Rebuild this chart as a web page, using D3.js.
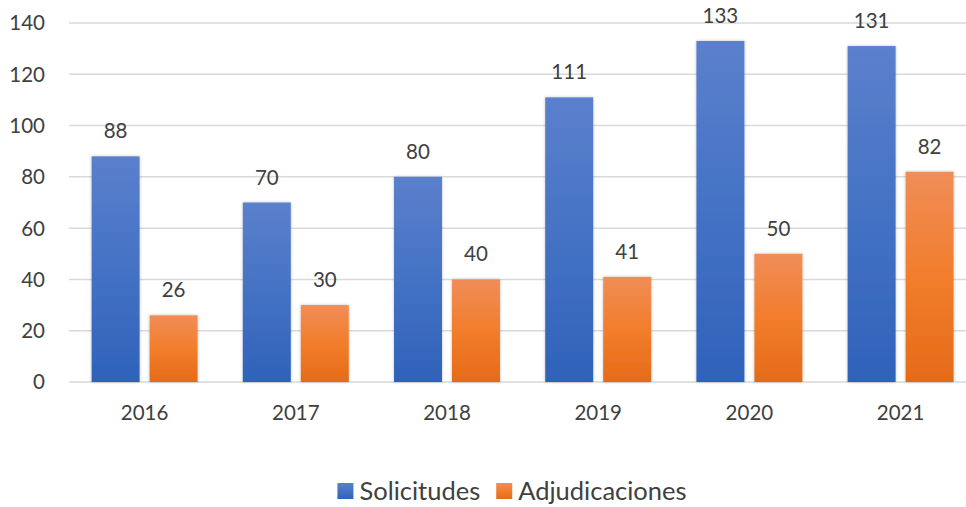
<!DOCTYPE html>
<html><head><meta charset="utf-8">
<script src="https://cdn.jsdelivr.net/npm/d3@7"></script>
<style>body{margin:0;background:#fff}svg{display:block}</style>
</head><body>
<svg id="c" width="966" height="507"></svg>
<script>
const categories = ["2016","2017","2018","2019","2020","2021"];
const seriesNames = ["Solicitudes","Adjudicaciones"];
const solicitudes = [88,70,80,111,133,131];
const adjudicaciones = [26,30,40,41,50,82];
const yTicks = [0,20,40,60,80,100,120,140];

const W=966,H=507;
const svg=d3.select("#c");
const font="Lato, 'Open Sans', sans-serif";
const txt="#404040";
const fs=20.5;

const defs=svg.append("defs");
const grads=[["gBlue","#5b80cc","#4472c4","#2f62ba"],["gOrange","#f08d58","#f27d2c","#e56b18"]];
grads.forEach(([id,a,b,c])=>{
  const g=defs.append("linearGradient").attr("id",id).attr("x1",0).attr("y1",0).attr("x2",0).attr("y2",1);
  g.append("stop").attr("offset","0%").attr("stop-color",a);
  g.append("stop").attr("offset","50%").attr("stop-color",b);
  g.append("stop").attr("offset","100%").attr("stop-color",c);
});
const f=defs.append("filter").attr("id","sh").attr("x","-20%").attr("y","-10%").attr("width","140%").attr("height","120%");
f.append("feDropShadow").attr("dx",0).attr("dy",0).attr("stdDeviation",1.6).attr("flood-color","#000").attr("flood-opacity",0.25);

const y=d3.scaleLinear().domain([0,140]).range([382,23]);
const x0=d3.scaleBand().domain(categories).range([69,69+151.2*6]).paddingInner(0).paddingOuter(0);
const x1=d3.scaleBand().domain(seriesNames).range([0,x0.bandwidth()]).paddingInner(0.1724).paddingOuter(0.39);

svg.append("g").selectAll("line").data(yTicks).join("line")
  .attr("x1",69).attr("x2",W).attr("y1",d=>y(d)).attr("y2",d=>y(d))
  .attr("stroke","#d9d9d9").attr("stroke-width",1.5);

svg.append("g").selectAll("text").data(yTicks).join("text")
  .attr("x",45).attr("y",d=>y(d)).attr("dy","0.36em").attr("text-anchor","end")
  .attr("font-family",font).attr("font-size",fs).attr("fill",txt).text(d=>d);

const data=categories.map((c,i)=>({cat:c,vals:[{s:seriesNames[0],v:solicitudes[i],g:"gBlue"},{s:seriesNames[1],v:adjudicaciones[i],g:"gOrange"}]}));
const grp=svg.append("g").selectAll("g").data(data).join("g").attr("transform",d=>`translate(${x0(d.cat)},0)`);
grp.selectAll("rect").data(d=>d.vals).join("rect")
  .attr("x",d=>x1(d.s)).attr("width",x1.bandwidth())
  .attr("y",d=>y(d.v)).attr("height",d=>y(0)-y(d.v))
  .attr("fill",d=>`url(#${d.g})`).attr("filter","url(#sh)");
grp.selectAll("text").data(d=>d.vals).join("text")
  .attr("x",d=>x1(d.s)+x1.bandwidth()/2).attr("y",d=>y(d.v)-18)
  .attr("text-anchor","middle").attr("font-family",font).attr("font-size",fs).attr("fill",txt).text(d=>d.v);

svg.append("g").selectAll("text").data(categories).join("text")
  .attr("x",d=>x0(d)+x0.bandwidth()/2).attr("y",413).attr("dy","0.36em").attr("text-anchor","middle")
  .attr("font-family",font).attr("font-size",fs).attr("fill",txt).text(d=>d);

const leg=svg.append("g");
const colors=["url(#gBlue)","url(#gOrange)"];
let lx=0;
seriesNames.forEach((s,i)=>{
  const g=leg.append("g");
  g.append("rect").attr("x",0).attr("y",-8).attr("width",16).attr("height",16).attr("fill",colors[i]);
  const t=g.append("text").attr("x",22).attr("y",0).attr("dy","0.35em").attr("font-family",font).attr("font-size",25.5).attr("fill",txt).text(s);
  const w=22+t.node().getComputedTextLength();
  g.attr("transform",`translate(${lx},491)`);
  lx+=w+16;
});
const total=lx-16;
leg.attr("transform",`translate(${(336+688)/2-total/2},0)`);
</script>
</body></html>
